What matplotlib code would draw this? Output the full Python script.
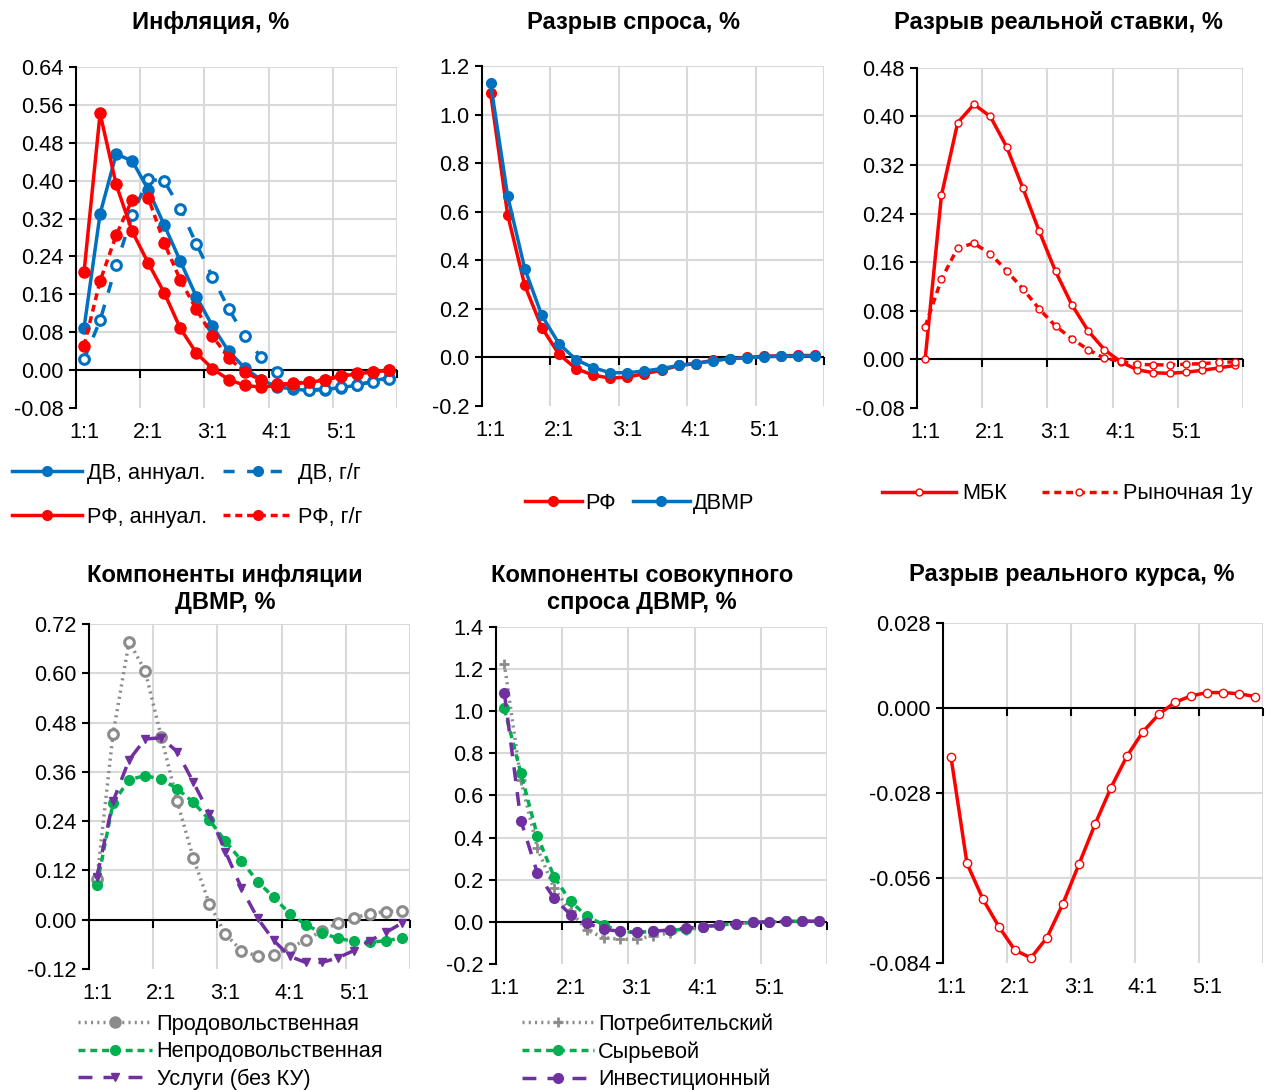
import numpy as np
import matplotlib
matplotlib.use("Agg")
import matplotlib.pyplot as plt
from matplotlib.lines import Line2D

plt.rcParams['font.family'] = ['Liberation Sans', 'DejaVu Sans']
plt.rcParams['lines.scale_dashes'] = False

# Кварталы: 1:1 ... 5:4
quarters = [f"{y}:{q}" for y in range(1, 6) for q in range(1, 5)]
tick_labels = ["1:1", "2:1", "3:1", "4:1", "5:1"]

# Инфляция, %
dv_annual = [0.089, 0.330, 0.456, 0.442, 0.381, 0.306, 0.230, 0.155, 0.093, 0.040,
             0.005, -0.020, -0.035, -0.040, -0.043, -0.041, -0.037, -0.032, -0.023, -0.016]
dv_yoy = [0.023, 0.105, 0.221, 0.328, 0.403, 0.399, 0.341, 0.266, 0.197, 0.130,
          0.072, 0.028, -0.004, -0.036, -0.042, -0.040, -0.036, -0.031, -0.025, -0.018]
rf_annual = [0.207, 0.542, 0.392, 0.293, 0.226, 0.163, 0.088, 0.036, 0.003, -0.020,
             -0.032, -0.036, -0.033, -0.029, -0.026, -0.021, -0.013, -0.008, -0.004, 0.000]
rf_yoy = [0.051, 0.188, 0.285, 0.360, 0.364, 0.268, 0.190, 0.128, 0.072, 0.026,
          -0.004, -0.021, -0.030, -0.028, -0.025, -0.020, -0.012, -0.007, -0.003, 0.000]

# Разрыв спроса, %
gap_rf = [1.090, 0.588, 0.297, 0.123, 0.013, -0.046, -0.073, -0.085, -0.081, -0.067,
          -0.053, -0.033, -0.025, -0.012, -0.005, 0.000, 0.005, 0.007, 0.008, 0.008]
gap_dvmr = [1.130, 0.665, 0.366, 0.173, 0.057, -0.009, -0.042, -0.063, -0.063, -0.056,
            -0.046, -0.033, -0.025, -0.014, -0.005, -0.002, 0.003, 0.005, 0.006, 0.006]

# Разрыв реальной ставки, %
rate_mbk = [0.000, 0.270, 0.390, 0.420, 0.400, 0.350, 0.282, 0.211, 0.145, 0.090,
            0.047, 0.016, -0.004, -0.017, -0.022, -0.023, -0.021, -0.018, -0.014, -0.010]
rate_1y = [0.054, 0.132, 0.184, 0.191, 0.174, 0.146, 0.116, 0.083, 0.055, 0.034,
           0.016, 0.002, -0.003, -0.008, -0.009, -0.009, -0.008, -0.007, -0.005, -0.004]

# Компоненты инфляции ДВМР, %
food = [0.100, 0.452, 0.677, 0.606, 0.446, 0.288, 0.150, 0.039, -0.035, -0.075,
        -0.089, -0.085, -0.069, -0.049, -0.028, -0.008, 0.004, 0.015, 0.020, 0.022]
nonfood = [0.085, 0.284, 0.341, 0.351, 0.342, 0.319, 0.286, 0.243, 0.191, 0.144,
           0.093, 0.055, 0.015, -0.012, -0.032, -0.045, -0.053, -0.055, -0.051, -0.045]
services = [0.105, 0.288, 0.389, 0.440, 0.443, 0.409, 0.335, 0.258, 0.166, 0.077,
            0.004, -0.050, -0.089, -0.104, -0.104, -0.093, -0.075, -0.051, -0.031, -0.008]

# Компоненты совокупного спроса ДВМР, %
consumer = [1.226, 0.673, 0.350, 0.160, 0.050, -0.040, -0.075, -0.083, -0.082, -0.066,
            -0.053, -0.040, -0.025, -0.015, -0.008, -0.003, 0.000, 0.002, 0.003, 0.003]
commodity = [1.013, 0.705, 0.408, 0.215, 0.097, 0.026, -0.014, -0.045, -0.050, -0.045,
             -0.040, -0.035, -0.025, -0.015, -0.008, -0.003, 0.000, 0.002, 0.003, 0.003]
investment = [1.087, 0.481, 0.231, 0.113, 0.034, -0.006, -0.035, -0.045, -0.050, -0.045,
              -0.038, -0.030, -0.022, -0.015, -0.008, -0.003, 0.000, 0.002, 0.003, 0.003]

# Разрыв реального курса, %
reer = [-0.0162, -0.0512, -0.0630, -0.0721, -0.0798, -0.0823, -0.0756, -0.0644, -0.0514, -0.0383,
        -0.0262, -0.0158, -0.0078, -0.0020, 0.0019, 0.0040, 0.0051, 0.0051, 0.0047, 0.0038]

BLUE = '#0070C0'
RED = '#FF0000'
GREY = '#8C8C8C'
GREEN = '#00B050'
PURPLE = '#7030A0'
FS = 15.7
LW = 2.5

x = np.arange(len(quarters))

fig = plt.figure(figsize=(12.69, 10.9), dpi=100)


def setup(ax, ymin, ymax, step, fmt):
    ticks = np.arange(ymin, ymax + step / 2, step)
    ax.set_xlim(-0.5, len(quarters) - 0.5)
    ax.set_ylim(ymin, ymax)
    ax.set_yticks(ticks)
    ax.set_yticklabels([fmt.format(round(t, 6) + 0.0) for t in ticks], fontsize=FS)
    ax.set_xticks(np.arange(0, 20, 4))
    ax.set_xticklabels(tick_labels, fontsize=FS)
    ax.tick_params(axis='x', length=0, pad=10)
    ax.tick_params(axis='y', length=5, width=1.5, direction='out', pad=4)
    for s in ['top', 'right', 'bottom']:
        ax.spines[s].set_visible(False)
    ax.spines['left'].set_linewidth(1.5)
    for t in ticks[1:]:
        ax.axhline(t, color='#D9D9D9', lw=1.5, zorder=0)
    for k in range(1, 6):
        ax.axvline(-0.5 + 4 * k, color='#D9D9D9', lw=1.5, zorder=0)
    ax.axhline(0, color='black', lw=1.5, zorder=1)
    # короткие засечки на нулевой линии
    gx = -0.5 + 4 * np.arange(1, 6)
    ax.plot(gx, np.zeros_like(gx), linestyle='none', marker=3, markersize=6,
            markeredgewidth=1.5, color='black', zorder=1, clip_on=False)


# --- Инфляция ---
ax1 = fig.add_axes([0.0599, 0.6257, 0.253, 0.3128])
setup(ax1, -0.08, 0.64, 0.08, "{:.2f}")
ax1.plot(x, dv_annual, color=BLUE, lw=LW, marker='o', ms=8, zorder=3)
ax1.plot(x, dv_yoy, color=BLUE, lw=LW, dashes=(8, 9), marker='o', ms=7,
         mfc='white', mew=2.2, zorder=3)
ax1.plot(x, rf_annual, color=RED, lw=LW, marker='o', ms=8, zorder=4)
ax1.plot(x, rf_yoy, color=RED, lw=LW, dashes=(5, 3.5), marker='o', ms=8, zorder=4)
h = [Line2D([], [], color=BLUE, lw=LW, marker='o', ms=7),
     Line2D([], [], color=RED, lw=LW, marker='o', ms=7),
     Line2D([], [], color=BLUE, lw=LW, dashes=(8, 9), marker='o', ms=7),
     Line2D([], [], color=RED, lw=LW, dashes=(5, 3.5), marker='o', ms=7)]
fig.legend(h, ["ДВ, аннуал.", "РФ, аннуал.", "ДВ, г/г", "РФ, г/г"], ncol=2,
           loc='center left', bbox_to_anchor=(0.0095, 0.5455), frameon=False,
           fontsize=FS, handlelength=3.2, handletextpad=0.25, columnspacing=0.7,
           labelspacing=1.05, borderpad=0, borderaxespad=0)

# --- Разрыв спроса ---
ax2 = fig.add_axes([0.3798, 0.6275, 0.2695, 0.312])
setup(ax2, -0.2, 1.2, 0.2, "{:.1f}")
ax2.plot(x, gap_rf, color=RED, lw=LW, marker='o', ms=7, zorder=3)
ax2.plot(x, gap_dvmr, color=BLUE, lw=LW, marker='o', ms=7, zorder=4)
h = [Line2D([], [], color=RED, lw=LW, marker='o', ms=7),
     Line2D([], [], color=BLUE, lw=LW, marker='o', ms=7)]
fig.legend(h, ["РФ", "ДВМР"], ncol=2, loc='center left',
           bbox_to_anchor=(0.4137, 0.5385), frameon=False, fontsize=FS,
           handlelength=2.6, handletextpad=0.15, columnspacing=0.8,
           borderpad=0, borderaxespad=0)

# --- Разрыв реальной ставки ---
ax3 = fig.add_axes([0.7226, 0.6257, 0.2569, 0.312])
setup(ax3, -0.08, 0.48, 0.08, "{:.2f}")
ax3.plot(x, rate_mbk, color=RED, lw=LW, marker='o', ms=5, mfc='white', mew=1, zorder=3)
ax3.plot(x, rate_1y, color=RED, lw=LW, dashes=(5, 3.5), marker='o', ms=5,
         mfc='white', mew=1, zorder=3)
h = [Line2D([], [], color=RED, lw=LW, marker='o', ms=5, mfc='white', mew=1),
     Line2D([], [], color=RED, lw=LW, dashes=(5, 3.5), marker='o', ms=5, mfc='white', mew=1)]
fig.legend(h, ["МБК", "Рыночная 1y"], ncol=2, loc='center left',
           bbox_to_anchor=(0.695, 0.5468), frameon=False, fontsize=FS,
           handlelength=3.4, handletextpad=0.3, columnspacing=1.6,
           borderpad=0, borderaxespad=0)

# --- Компоненты инфляции ДВМР ---
ax4 = fig.add_axes([0.0701, 0.111, 0.253, 0.3165])
setup(ax4, -0.12, 0.72, 0.12, "{:.2f}")
ax4.plot(x, food, color=GREY, lw=LW, dashes=(1.5, 3), marker='o', ms=7,
         mfc='white', mew=2.2, zorder=3)
ax4.plot(x, nonfood, color=GREEN, lw=LW, dashes=(5, 3.5), marker='o', ms=7, zorder=3)
ax4.plot(x, services, color=PURPLE, lw=LW, dashes=(10, 8), marker='v', ms=6, zorder=4)
h = [Line2D([], [], color=GREY, lw=LW, dashes=(1.5, 3), marker='o', ms=8),
     Line2D([], [], color=GREEN, lw=LW, dashes=(5, 3.5), marker='o', ms=7),
     Line2D([], [], color=PURPLE, lw=LW, dashes=(10, 8), marker='v', ms=6)]
fig.legend(h, ["Продовольственная", "Непродовольственная", "Услуги (без КУ)"],
           loc='center left', bbox_to_anchor=(0.0615, 0.035), frameon=False,
           fontsize=FS, handlelength=3.4, handletextpad=0.2, labelspacing=0.28,
           borderpad=0, borderaxespad=0)

# --- Компоненты совокупного спроса ДВМР ---
ax5 = fig.add_axes([0.3909, 0.1156, 0.2608, 0.3092])
setup(ax5, -0.2, 1.4, 0.2, "{:.1f}")
ax5.plot(x, consumer, color=GREY, lw=LW, dashes=(1.5, 3), marker='+', ms=7, mew=2, zorder=3)
ax5.plot(x, commodity, color=GREEN, lw=LW, dashes=(5, 3.5), marker='o', ms=7, zorder=3)
ax5.plot(x, investment, color=PURPLE, lw=LW, dashes=(10, 8), marker='o', ms=7, zorder=4)
h = [Line2D([], [], color=GREY, lw=LW, dashes=(1.5, 3), marker='+', ms=7, mew=2),
     Line2D([], [], color=GREEN, lw=LW, dashes=(5, 3.5), marker='o', ms=7),
     Line2D([], [], color=PURPLE, lw=LW, dashes=(10, 8), marker='o', ms=7)]
fig.legend(h, ["Потребительский", "Сырьевой", "Инвестиционный"],
           loc='center left', bbox_to_anchor=(0.4113, 0.035), frameon=False,
           fontsize=FS, handlelength=3.3, handletextpad=0.2, labelspacing=0.28,
           borderpad=0, borderaxespad=0)

# --- Разрыв реального курса ---
ax6 = fig.add_axes([0.7431, 0.1165, 0.2522, 0.3119])
setup(ax6, -0.084, 0.028, 0.028, "{:.3f}")
ax6.plot(x, reer, color=RED, lw=LW, marker='o', ms=6, mfc='white', mew=1, zorder=3)

# Заголовки
tkw = dict(ha='center', va='center', fontsize=17, fontweight='bold', linespacing=1.25)
fig.text(0.1663, 0.9798, "Инфляция, %", **tkw)
fig.text(0.4996, 0.9798, "Разрыв спроса, %", **tkw)
fig.text(0.8337, 0.9798, "Разрыв реальной ставки, %", **tkw)
fig.text(0.1773, 0.4596, "Компоненты инфляции\nДВМР, %", **tkw)
fig.text(0.506, 0.4596, "Компоненты совокупного\nспроса ДВМР, %", **tkw)
fig.text(0.8448, 0.4725, "Разрыв реального курса, %", **tkw)

fig.savefig("out.png", dpi=100)
